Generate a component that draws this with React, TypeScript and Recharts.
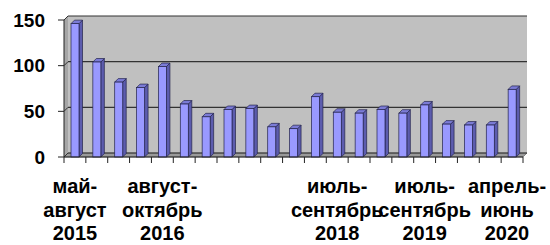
import React from 'react';
import { BarChart, Bar, XAxis, YAxis, CartesianGrid } from 'recharts';

// periods: only some of them carry a visible label, like the original
const periods = [
  'май-август 2015', '', '', '', 'август-октябрь 2016', '', '', '', '', '', '', '',
  'июль-сентябрь 2018', '', '', '', 'июль-сентябрь 2019', '', '', '', 'апрель-июнь 2020',
];
const values = [146, 104, 82, 76, 99, 58, 44, 52, 53, 33, 31, 66, 49, 48, 52, 48, 57, 36, 35, 35, 74];
const yTicks = [0, 50, 100, 150];

const data = values.map((v, i) => ({ idx: i, period: periods[i], value: v }));

const DEPTH = 4;
const FONT = '"Liberation Sans", Arial, sans-serif';
const LABEL_SIZE = 20;

function splitPeriod(p: string) {
  const dash = p.indexOf('-');
  const space = p.lastIndexOf(' ');
  if (dash < 0 || space < 0) return [p];
  return [p.slice(0, dash + 1), p.slice(dash + 1, space), p.slice(space + 1)];
}

function PeriodTick(props: any) {
  const { x, y, payload, index } = props;
  const half = payload.offset ?? 11;
  const base = y - 8; // axis line (tickSize 6 + tickMargin 2)
  const lines = splitPeriod(periods[payload.value] || '');
  const longest = Math.max(...lines.map((l) => l.length));
  const w = longest * 0.6 * LABEL_SIZE;
  const cx = Math.min(x, 549 - w / 2);
  return (
    <g>
      <line x1={x - half} y1={base} x2={x - half} y2={base + 6} stroke="#222" />
      {index === values.length - 1 && (
        <line x1={x + half} y1={base} x2={x + half} y2={base + 6} stroke="#222" />
      )}
      {lines[0] !== '' &&
        lines.map((l, i) => (
          <text key={i} x={cx} y={base + 36 + i * 23.5} textAnchor="middle" fontSize={LABEL_SIZE} fontWeight="bold" fontFamily={FONT} fill="#000">
            {l}
          </text>
        ))}
    </g>
  );
}

function WallLine(props: any) {
  const { x1, y1, x2, index, x, y, width, height } = props;
  const d = DEPTH;
  return (
    <g>
      {index === 0 && (
        <g>
          <rect x={x + d} y={y - d} width={width} height={height} fill="#c0c0c0" />
          <polygon points={`${x},${y + height} ${x},${y} ${x + d},${y - d} ${x + d},${y + height - d}`} fill="#a6a6a6" />
          <polygon points={`${x},${y + height} ${x + d},${y + height - d} ${x + width + d},${y + height - d} ${x + width},${y + height}`} fill="#9a9a9a" stroke="#555" strokeWidth={0.6} />
        </g>
      )}
      <line x1={x1} y1={y1} x2={x1 + d} y2={y1 - d} stroke="#333" />
      <line x1={x1 + d} y1={y1 - d} x2={x2 + d} y2={y1 - d} stroke="#333" strokeWidth={1.2} />
    </g>
  );
}

function Bar3D(props: any) {
  const { x, y, width, height } = props;
  if (!height) return null;
  const d = 3.5;
  return (
    <g stroke="#22224a" strokeWidth={0.7}>
      <polygon points={`${x + width},${y} ${x + width + d},${y - d} ${x + width + d},${y + height - d} ${x + width},${y + height}`} fill="#5c5cae" />
      <polygon points={`${x},${y} ${x + d},${y - d} ${x + width + d},${y - d} ${x + width},${y}`} fill="#7b7bd6" />
      <rect x={x} y={y} width={width} height={height} fill="#9999ff" />
    </g>
  );
}

export default function App() {
  return (
    <div style={{ position: 'absolute', left: 0, top: 0, width: 550, height: 245, background: '#fff' }}>
      <BarChart width={550} height={245} data={data} margin={{ top: 20, right: 27, bottom: 0, left: 0 }}>
        <CartesianGrid vertical={false} horizontal={(p: any) => <WallLine {...p} />} />
        <XAxis
          dataKey="idx"
          type="category"
          interval={0}
          height={88}
          tickSize={6}
          tickMargin={2}
          tickLine={{ stroke: 'none' }}
          axisLine={{ stroke: '#222' }}
          tick={(p: any) => <PeriodTick {...p} />}
        />
        <YAxis
          domain={[0, 150]}
          ticks={yTicks}
          width={64}
          tickSize={6}
          tickMargin={13}
          axisLine={{ stroke: '#222' }}
          tickLine={{ stroke: '#222' }}
          tick={{ fill: '#000', fontSize: 19, fontWeight: 'bold', fontFamily: FONT }}
        />
        <Bar dataKey="value" barSize={8} shape={(p: any) => <Bar3D {...p} />} isAnimationActive={false} />
      </BarChart>
    </div>
  );
}
